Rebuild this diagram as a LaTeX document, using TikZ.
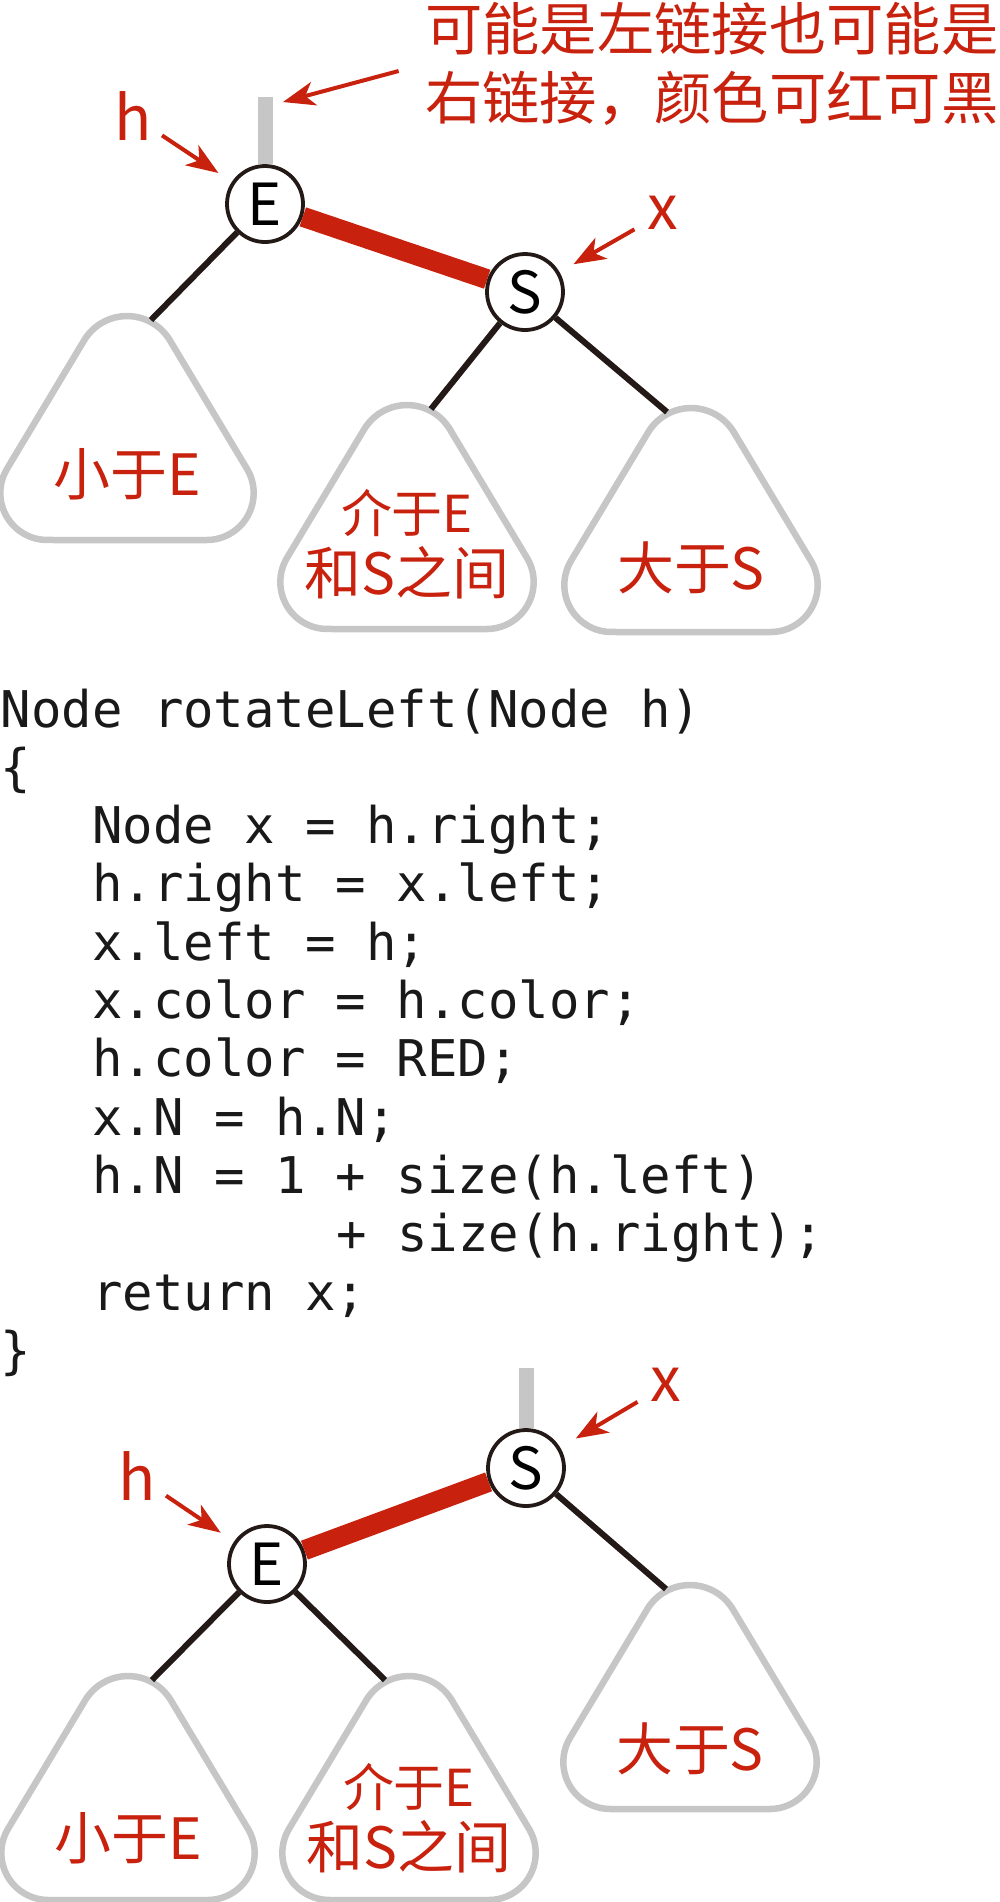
\documentclass[tikz,border=0pt]{standalone}
\usepackage{fontspec}
\setmonofont{DejaVu Sans Mono}
\newfontfamily\cjkfont{Noto Sans CJK SC}
\usetikzlibrary{arrows.meta, calc, positioning}
\definecolor{linkred}{RGB}{200,34,14}
\definecolor{stubgray}{RGB}{198,198,198}
\definecolor{edgeblack}{RGB}{35,25,22}

\begin{document}
\begin{tikzpicture}[
  x=0.1mm, y=-0.1mm,
  keynode/.style={circle, draw=edgeblack, line width=0.38mm, fill=white, minimum size=7.6mm, inner sep=0pt, font=\cjkfont\fontsize{16.5pt}{18pt}\selectfont},
  redlink/.style={draw=linkred, line width=2mm},
  blacklink/.style={draw=edgeblack, line width=0.6mm},
  parentlink/.style={draw=stubgray, line width=1.5mm},
  ptrlabel/.style={text=linkred, inner sep=0.3mm, font=\cjkfont\fontsize{17.5pt}{19pt}\selectfont},
  pointer/.style={draw=linkred, line width=0.4mm, -{Stealth[length=3.2mm, width=2.4mm, inset=0.9mm]}},
  notetext/.style={text=linkred, inner sep=0pt, align=right, font=\cjkfont\fontsize{16.3pt}{19.6pt}\selectfont},
  treetext/.style={text=linkred, inner sep=0pt, align=center, font=\cjkfont\fontsize{16.2pt}{17.6pt}\selectfont},
  treeoutline/.style={draw=stubgray, fill=white, line width=0.65mm, line join=round},
  codeline/.style={anchor=base west, inner sep=0pt, text=black!90, font=\ttfamily\fontsize{14.4pt}{16pt}\selectfont},
  pics/subtree/.style 2 args={code={
    % rounded triangle, origin at its top
    \draw[treeoutline, x=0.1mm, y=0.1mm]
      (0,-224) -- (79.7,-224) arc[start angle=-90, end angle=30.96, radius=47]
      -- (42.9,-24.3) arc[start angle=30.96, end angle=149.04, radius=50]
      -- (-120,-152.8) arc[start angle=149.04, end angle=270, radius=47] -- cycle;
    \coordinate (-l) at (-24,4);
    \coordinate (-r) at (24,4);
    \node[treetext] (-txt) at (0,#1) {#2};
  }}
]
\useasboundingbox (0,0) rectangle (1000,1902);

% before the rotation
\node[keynode] (E1) at (265,204) {E};
\node[keynode] (S1) at (525,292) {S};
\coordinate (e1up) at (265,97);
\draw[parentlink] (e1up) -- (E1);
\draw[redlink] (E1) -- (S1);
\pic (lt1) at (127,316) {subtree={158}{小于E}};
\pic (mt1) at (407,405) {subtree={139}{\fontsize{14.5pt}{17.6pt}\selectfont 介于E\\和S之间}};
\pic (rt1) at (691,408) {subtree={160}{大于S}};
\draw[blacklink] (E1) -- (lt1-r);
\draw[blacklink] (S1) -- (mt1-r);
\draw[blacklink] (S1) -- (rt1-l);

\node[ptrlabel] (h1) at (133,116) {h};
\node[ptrlabel] (x1) at (663,213) {x};
\draw[pointer, shorten <=0.8mm, shorten >=1.6mm] (h1) -- (E1);
\draw[pointer, shorten <=1.1mm, shorten >=1.6mm] (x1) -- (S1);

\node[notetext, anchor=east] (note) at (999,64) {可能是左链接也可能是\\右链接，颜色可红可黑};
\coordinate (notetip) at (283,102);
\draw[pointer, shorten <=2.7mm] (note.west) -- (notetip);

% the code
\foreach \ln/\col/\src in {0/0/Node rotateLeft(Node h), 1/0/\{,
    2/3/Node x = h.right;, 3/3/h.right = x.left;, 4/3/x.left = h;,
    5/3/x.color = h.color;, 6/3/h.color = RED;, 7/3/x.N = h.N;,
    8/3/h.N = 1 + size(h.left), 9/11/+ size(h.right);, 10/3/return x;, 11/0/\}}
  \node[codeline] (code\ln) at (\col*30.5, 727+\ln*58.3) {\src};

% after the rotation
\node[keynode] (S2) at (526,1468) {S};
\node[keynode] (E2) at (267,1564) {E};
\coordinate (s2up) at (526,1368);
\draw[parentlink] (s2up) -- (S2);
\draw[redlink] (E2) -- (S2);
\pic (lt2) at (128,1676) {subtree={162}{小于E}};
\pic (mt2) at (409,1676) {subtree={142}{\fontsize{14.5pt}{17.6pt}\selectfont 介于E\\和S之间}};
\pic (rt2) at (690,1585) {subtree={164}{大于S}};
\draw[blacklink] (E2) -- (lt2-r);
\draw[blacklink] (E2) -- (mt2-l);
\draw[blacklink] (S2) -- (rt2-l);

\node[ptrlabel] (h2) at (137,1476) {h};
\node[ptrlabel] (x2) at (666,1385) {x};
\draw[pointer, shorten <=0.8mm, shorten >=1.6mm] (h2) -- (E2);
\draw[pointer, shorten <=1.1mm, shorten >=1.8mm] (x2) -- (S2);
\end{tikzpicture}
\end{document}
